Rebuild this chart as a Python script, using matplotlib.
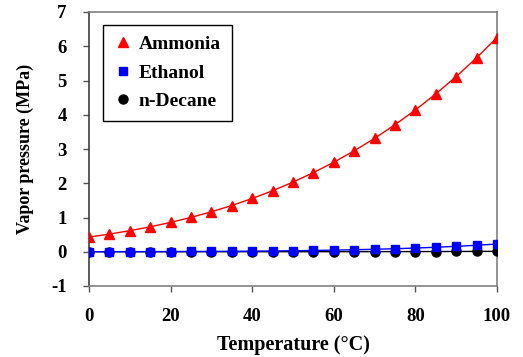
import matplotlib
matplotlib.use("Agg")
import matplotlib.pyplot as plt

temperature = [0, 5, 10, 15, 20, 25, 30, 35, 40, 45, 50, 55, 60, 65, 70, 75, 80, 85, 90, 95, 100]
ammonia = [0.429, 0.516, 0.615, 0.728, 0.857, 1.003, 1.167, 1.350, 1.555, 1.782, 2.033,
           2.310, 2.614, 2.947, 3.312, 3.709, 4.140, 4.609, 5.116, 5.664, 6.255]
ethanol = [0.0016, 0.0023, 0.0031, 0.0043, 0.0059, 0.0079, 0.0104, 0.0137, 0.0179, 0.0231, 0.0295,
           0.0374, 0.0470, 0.0585, 0.0724, 0.0887, 0.108, 0.131, 0.158, 0.189, 0.226]
decane = [0.00004, 0.00006, 0.00009, 0.00013, 0.00018, 0.00025, 0.00035, 0.00048, 0.00065, 0.00087, 0.0011,
          0.0015, 0.0019, 0.0025, 0.0032, 0.0040, 0.0050, 0.0063, 0.0078, 0.0096, 0.0118]

xticks = [0, 20, 40, 60, 80, 100]
yticks = [-1, 0, 1, 2, 3, 4, 5, 6, 7]

plt.rcParams['font.family'] = ['Liberation Serif', 'DejaVu Serif']
plt.rcParams['font.weight'] = 'bold'
plt.rcParams['axes.unicode_minus'] = False

fig = plt.figure(figsize=(5.23, 3.57), dpi=100)
ax = fig.add_axes([89/523, 1-286/357, (497-89)/523, (286-12)/357])

ax.plot(temperature, decane, color='black', lw=1.0, marker='o', ms=6.5, label='n-Decane', zorder=3)
ax.plot(temperature, ethanol, color='#0000ff', lw=1.0, marker='s', ms=5.5, label='Ethanol', zorder=4)
ax.plot(temperature, ammonia, color='#ff0000', lw=1.0, marker='^', ms=6.5, label='Ammonia', zorder=5)

ax.set_xlim(0, 100)
ax.set_ylim(-1, 7)
ax.set_xticks(xticks)
ax.set_yticks(yticks)
ax.tick_params(axis='both', direction='out', length=4, width=1, color='#555555',
               labelsize=13.5, pad=12)
ax.tick_params(axis='y', pad=12)
for lab in ax.get_xticklabels() + ax.get_yticklabels():
    lab.set_fontweight('bold')
for s in ax.spines.values():
    s.set_color('#808080')
    s.set_linewidth(1.2)
ax.spines['left'].set_color('#404040')

ax.set_xlabel('Temperature (°C)', fontsize=14.5, fontweight='bold', labelpad=7)
ax.set_ylabel('Vapor pressure (MPa)', fontsize=13, fontweight='bold', labelpad=12)

handles, labels = ax.get_legend_handles_labels()
order = [2, 1, 0]
leg = ax.legend([handles[i] for i in order], [labels[i] for i in order],
                loc='upper left', bbox_to_anchor=(14/408, 1-13/274), borderaxespad=0,
                frameon=True, fancybox=False, framealpha=1, edgecolor='black',
                prop={'family': 'Liberation Serif', 'weight': 'bold', 'size': 14},
                handlelength=1.0, handletextpad=0.3, borderpad=0.55, labelspacing=0.55,
                markerscale=1.0)
for h in leg.legend_handles:
    h.set_linestyle('none')
leg.get_frame().set_linewidth(1.0)

fig.savefig('out.png', dpi=100)
